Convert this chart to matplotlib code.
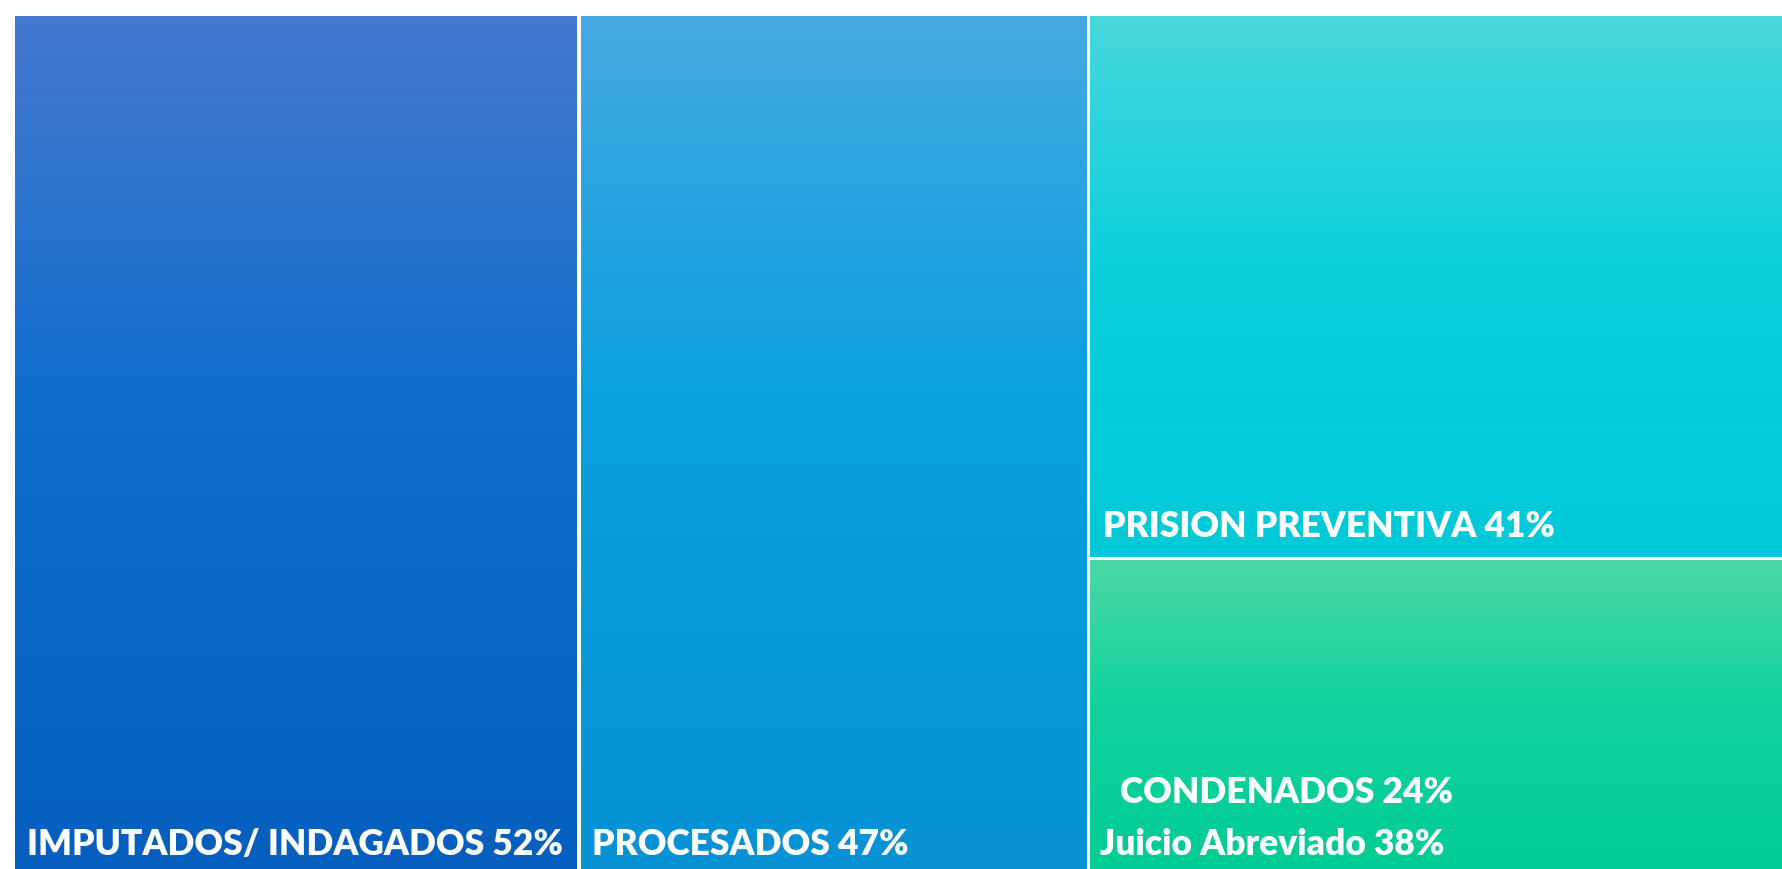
import numpy as np
import matplotlib
matplotlib.use("Agg")
import matplotlib.pyplot as plt
from matplotlib.colors import LinearSegmentedColormap

# Datos del treemap (tamaño relativo de cada bloque)
labels = ["IMPUTADOS/ INDAGADOS 52%", "PROCESADOS 47%", "PRISION PREVENTIVA 41%",
          "CONDENADOS 24%\nJuicio Abreviado 38%"]
sizes = [31.9, 28.8, 25.0, 14.3]
# colores de degradado (arriba, medio, abajo)
top_colors = ["#4579d0", "#45a9e1", "#47d7dd", "#4bd8a6"]
mid_colors = ["#0f6dcb", "#0aa0e0", "#0cd0dc", "#12d39d"]
bottom_colors = ["#065fbe", "#0692d5", "#00c9d8", "#00cc93"]

W, H = 1783, 870
X0, Y0 = 15, 17  # esquina del treemap en pixeles
GAP = 4

fig = plt.figure(figsize=(W / 100, H / 100), dpi=100)
ax = fig.add_axes([0, 0, 1, 1])
ax.set_xlim(0, W)
ax.set_ylim(H, 0)
ax.axis("off")

tw, th = W - X0, H - Y0
total = sum(sizes)
# columnas: dos bloques de altura completa, el tercero dividido en dos
w1 = sizes[0] / total * tw
w2 = sizes[1] / total * tw
h3 = sizes[2] / (sizes[2] + sizes[3]) * th
rects = [
    (X0, Y0, X0 + w1 - GAP / 2, H),
    (X0 + w1 + GAP / 2, Y0, X0 + w1 + w2 - GAP / 2, H),
    (X0 + w1 + w2 + GAP / 2, Y0, W, Y0 + h3 - GAP / 2),
    (X0 + w1 + w2 + GAP / 2, Y0 + h3 + GAP / 2, W, H),
]

grad = np.linspace(0, 1, 256).reshape(-1, 1)
for i, (x1, y1, x2, y2) in enumerate(rects):
    cmap = LinearSegmentedColormap.from_list(
        "g%d" % i, [(0, top_colors[i]), (0.45, mid_colors[i]), (1, bottom_colors[i])])
    ax.imshow(grad, cmap=cmap, aspect="auto", extent=(x1, x2, y2, y1),
              interpolation="bicubic", zorder=1)

fnt = dict(color="white", fontsize=25.5, fontweight="heavy", family=["Lato", "DejaVu Sans"], zorder=3)
ax.text(rects[0][0] + 12, 855, labels[0], va="baseline", ha="left", **fnt)
ax.text(rects[1][0] + 11, 855, labels[1], va="baseline", ha="left", **fnt)
ax.text(rects[2][0] + 13, 537, labels[2], va="baseline", ha="left", **fnt)
cond, juicio = labels[3].split("\n")
ax.text(rects[3][0] + 30, 803, cond, va="baseline", ha="left", **fnt)
ax.text(rects[3][0] + 10, 855, juicio, va="baseline", ha="left", **fnt)

fig.savefig("out.png", dpi=100, facecolor="white")
